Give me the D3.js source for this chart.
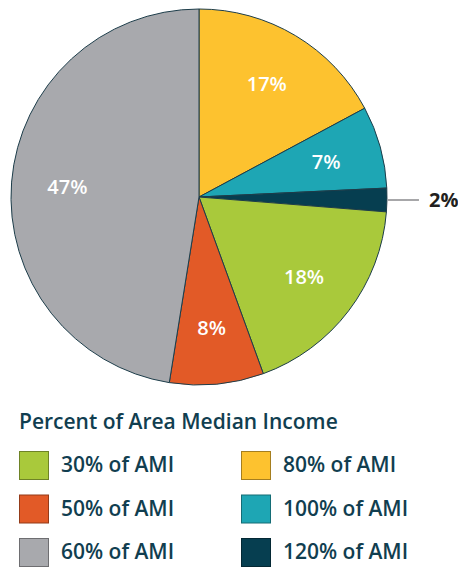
<!DOCTYPE html>
<html>
<head>
<meta charset="utf-8">
<script src="https://d3js.org/d3.v7.min.js"></script>
<style>
  body { margin:0; background:#fff; }
  text { font-family:"Open Sans", sans-serif; }
</style>
</head>
<body>
<div id="plot"></div>
<script>
// slices clockwise from 12 o'clock
var categories = ['80% of AMI','100% of AMI','120% of AMI','30% of AMI','50% of AMI','60% of AMI'];
var values = [17, 7, 2, 18, 8, 47];
var colors = ['#fdc22f','#1ea6b4','#063e50','#a9c93b','#e25a27','#a8a9ad'];

// legend order (two columns)
var legendOrder = ['30% of AMI','50% of AMI','60% of AMI','80% of AMI','100% of AMI','120% of AMI'];
var legendTitle = 'Percent of Area Median Income';

var width = 458, height = 568;
var cx = 199, cy = 197, radius = 188;

var svg = d3.select('#plot')
	.append('svg')
	.attr('width', width)
	.attr('height', height);

var color = d3.scaleOrdinal().domain(categories).range(colors);

var data = categories.map(function(c, i){ return {cat:c, value:values[i]}; });

var pie = d3.pie().sort(null).value(function(d){ return d.value; });
var arcs = pie(data);

var arc = d3.arc().innerRadius(0).outerRadius(radius);
var labelArc = d3.arc().innerRadius(132).outerRadius(132);

var g = svg.append('g').attr('transform','translate('+cx+','+cy+')');

g.selectAll('path')
	.data(arcs)
	.enter()
	.append('path')
	.attr('d', arc)
	.attr('fill', function(d){ return color(d.data.cat); })
	.attr('stroke', '#1d3d4a')
	.attr('stroke-width', 1)
	.attr('stroke-linejoin', 'round');

// labels inside the big slices
g.selectAll('text.lbl')
	.data(arcs.filter(function(d){ return d.data.value > 5; }))
	.enter()
	.append('text')
	.attr('class','lbl')
	.attr('x', function(d){ return labelArc.centroid(d)[0]; })
	.attr('y', function(d){ return labelArc.centroid(d)[1]; })
	.attr('dy', '0.35em')
	.attr('text-anchor','middle')
	.attr('fill','#fff')
	.style('font-size','20px')
	.style('font-weight','600')
	.text(function(d){ return d.data.value + '%'; });

// small slice gets a leader line
arcs.filter(function(d){ return d.data.value <= 5; }).forEach(function(d){
	var mid = (d.startAngle + d.endAngle)/2;
	var p0 = [Math.sin(mid)*(radius+1), -Math.cos(mid)*(radius+1)];
	var p1 = [Math.sin(mid)*(radius+32), -Math.cos(mid)*(radius+32)];
	g.append('line')
		.attr('x1', p0[0]).attr('y1', p0[1])
		.attr('x2', p1[0]).attr('y2', p0[1])
		.attr('stroke','#8a8a8c')
		.attr('stroke-width',1.5);
	g.append('text')
		.attr('x', p1[0] + 10)
		.attr('y', p0[1])
		.attr('dy','0.35em')
		.attr('fill','#231f20')
		.style('font-size','20px')
		.style('font-weight','700')
		.text(d.data.value + '%');
});

// legend
var legend = svg.append('g');

legend.append('text')
	.attr('x', 19)
	.attr('y', 429)
	.attr('fill','#113e50')
	.style('font-size','21px')
	.style('font-weight','600')
	.text(legendTitle);

var items = legend.selectAll('g.item')
	.data(legendOrder)
	.enter()
	.append('g')
	.attr('class','item')
	.attr('transform', function(d, i){
		var col = Math.floor(i/3), row = i%3;
		return 'translate('+(19 + col*222)+','+(451 + row*43.5)+')';
	});

items.append('rect')
	.attr('x', 0.5).attr('y', 0.5)
	.attr('width', 29).attr('height', 28)
	.attr('fill', function(d){ return color(d); })
	.attr('stroke', function(d){ return d3.color(color(d)).darker(1.2); })
	.attr('stroke-width', 1);

items.append('text')
	.attr('x', 42)
	.attr('y', 21)
	.attr('fill','#113e50')
	.style('font-size','21px')
	.style('font-weight','600')
	.text(function(d){ return d; });
</script>
</body>
</html>
